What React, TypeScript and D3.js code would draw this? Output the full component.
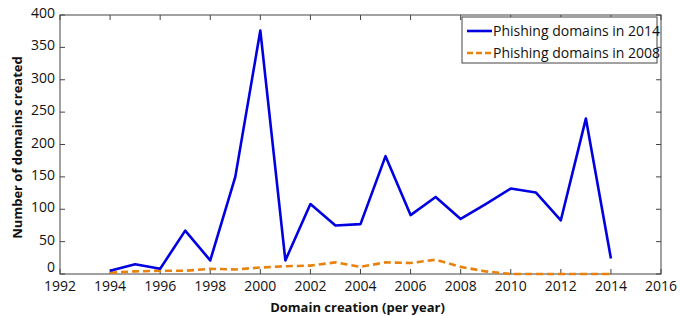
import React from "react";
import { scaleLinear, line } from "d3";

// years on the x axis
const years = [
  1994, 1995, 1996, 1997, 1998, 1999, 2000, 2001, 2002, 2003, 2004, 2005,
  2006, 2007, 2008, 2009, 2010, 2011, 2012, 2013, 2014,
];
const domains2014 = [
  5, 15, 8, 67, 21, 150, 376, 21, 108, 75, 77, 182, 91, 119, 85, 108, 132, 126,
  83, 240, 24,
];
const domains2008 = [
  2, 4, 5, 5, 8, 7, 10, 12, 13, 18, 11, 18, 17, 22, 11, 4, 0, 0, 0, 0, 0,
];
const xTicks = [1992, 1994, 1996, 1998, 2000, 2002, 2004, 2006, 2008, 2010, 2012, 2014, 2016];
const yTicks = [0, 50, 100, 150, 200, 250, 300, 350, 400];

const W = 680;
const H = 316;
const m = { left: 60, right: 19, top: 15, bottom: 42 };
const font = "'Open Sans', 'DejaVu Sans', sans-serif";

export default function App() {
  const x = scaleLinear()
    .domain([1992, 2016])
    .range([m.left, W - m.right]);
  const y = scaleLinear()
    .domain([0, 400])
    .range([H - m.bottom, m.top]);

  const mk = (vals: number[]) =>
    line<number>()
      .x((_, i) => x(years[i]))
      .y((d) => y(d))(vals) || "";

  const x0 = x.range()[0], x1 = x.range()[1];
  const y0 = y.range()[0], y1 = y.range()[1];
  const axisColor = "#444";

  return (
    <svg
      width={W}
      height={H}
      style={{ position: "absolute", left: 0, top: 0, background: "#fff" }}
    >
      {/* frame */}
      <rect x={x0} y={y1} width={x1 - x0} height={y0 - y1} fill="none" stroke={axisColor} strokeWidth={1} />
      {xTicks.map((t) => (
        <g key={t}>
          <line x1={x(t)} x2={x(t)} y1={y0} y2={y0 - 5} stroke={axisColor} />
          <line x1={x(t)} x2={x(t)} y1={y1} y2={y1 + 5} stroke={axisColor} />
          <text x={x(t)} y={y0 + 17} textAnchor="middle" fontFamily={font} fontSize={14} fill="#111">
            {t}
          </text>
        </g>
      ))}
      {yTicks.map((t) => (
        <g key={t}>
          <line x1={x0} x2={x0 + 5} y1={y(t)} y2={y(t)} stroke={axisColor} />
          <line x1={x1} x2={x1 - 5} y1={y(t)} y2={y(t)} stroke={axisColor} />
          <text x={x0 - 5} y={y(t) + (t === 0 ? -2 : 3)} textAnchor="end" fontFamily={font} fontSize={14} fill="#111">
            {t}
          </text>
        </g>
      ))}

      <path d={mk(domains2008)} fill="none" stroke="#e8820c" strokeWidth={2.6} strokeDasharray="7,4" />
      <path d={mk(domains2014)} fill="none" stroke="#0000e0" strokeWidth={2.6} strokeLinejoin="round" />

      {/* legend */}
      <g>
        <rect x={462} y={17} width={195} height={46} fill="#fff" stroke={axisColor} />
        <line x1={467} x2={492} y1={31} y2={31} stroke="#0000e0" strokeWidth={2.6} />
        <text x={493} y={36} fontFamily={font} fontSize={14} fill="#111">Phishing domains in 2014</text>
        <line x1={467} x2={492} y1={53} y2={53} stroke="#e8820c" strokeWidth={2.6} strokeDasharray="6,3" />
        <text x={493} y={58} fontFamily={font} fontSize={14} fill="#111">Phishing domains in 2008</text>
      </g>

      <text x={(x0 + x1) / 2 - 3} y={312} textAnchor="middle" fontFamily={font} fontSize={13} fontWeight="bold" fill="#111">
        Domain creation (per year)
      </text>
      <text
        transform={`translate(22,${(y0 + y1) / 2 + 3}) rotate(-90)`}
        textAnchor="middle"
        fontFamily={font}
        fontSize={13}
        fontWeight="bold"
        fill="#111"
      >
        Number of domains created
      </text>
    </svg>
  );
}
